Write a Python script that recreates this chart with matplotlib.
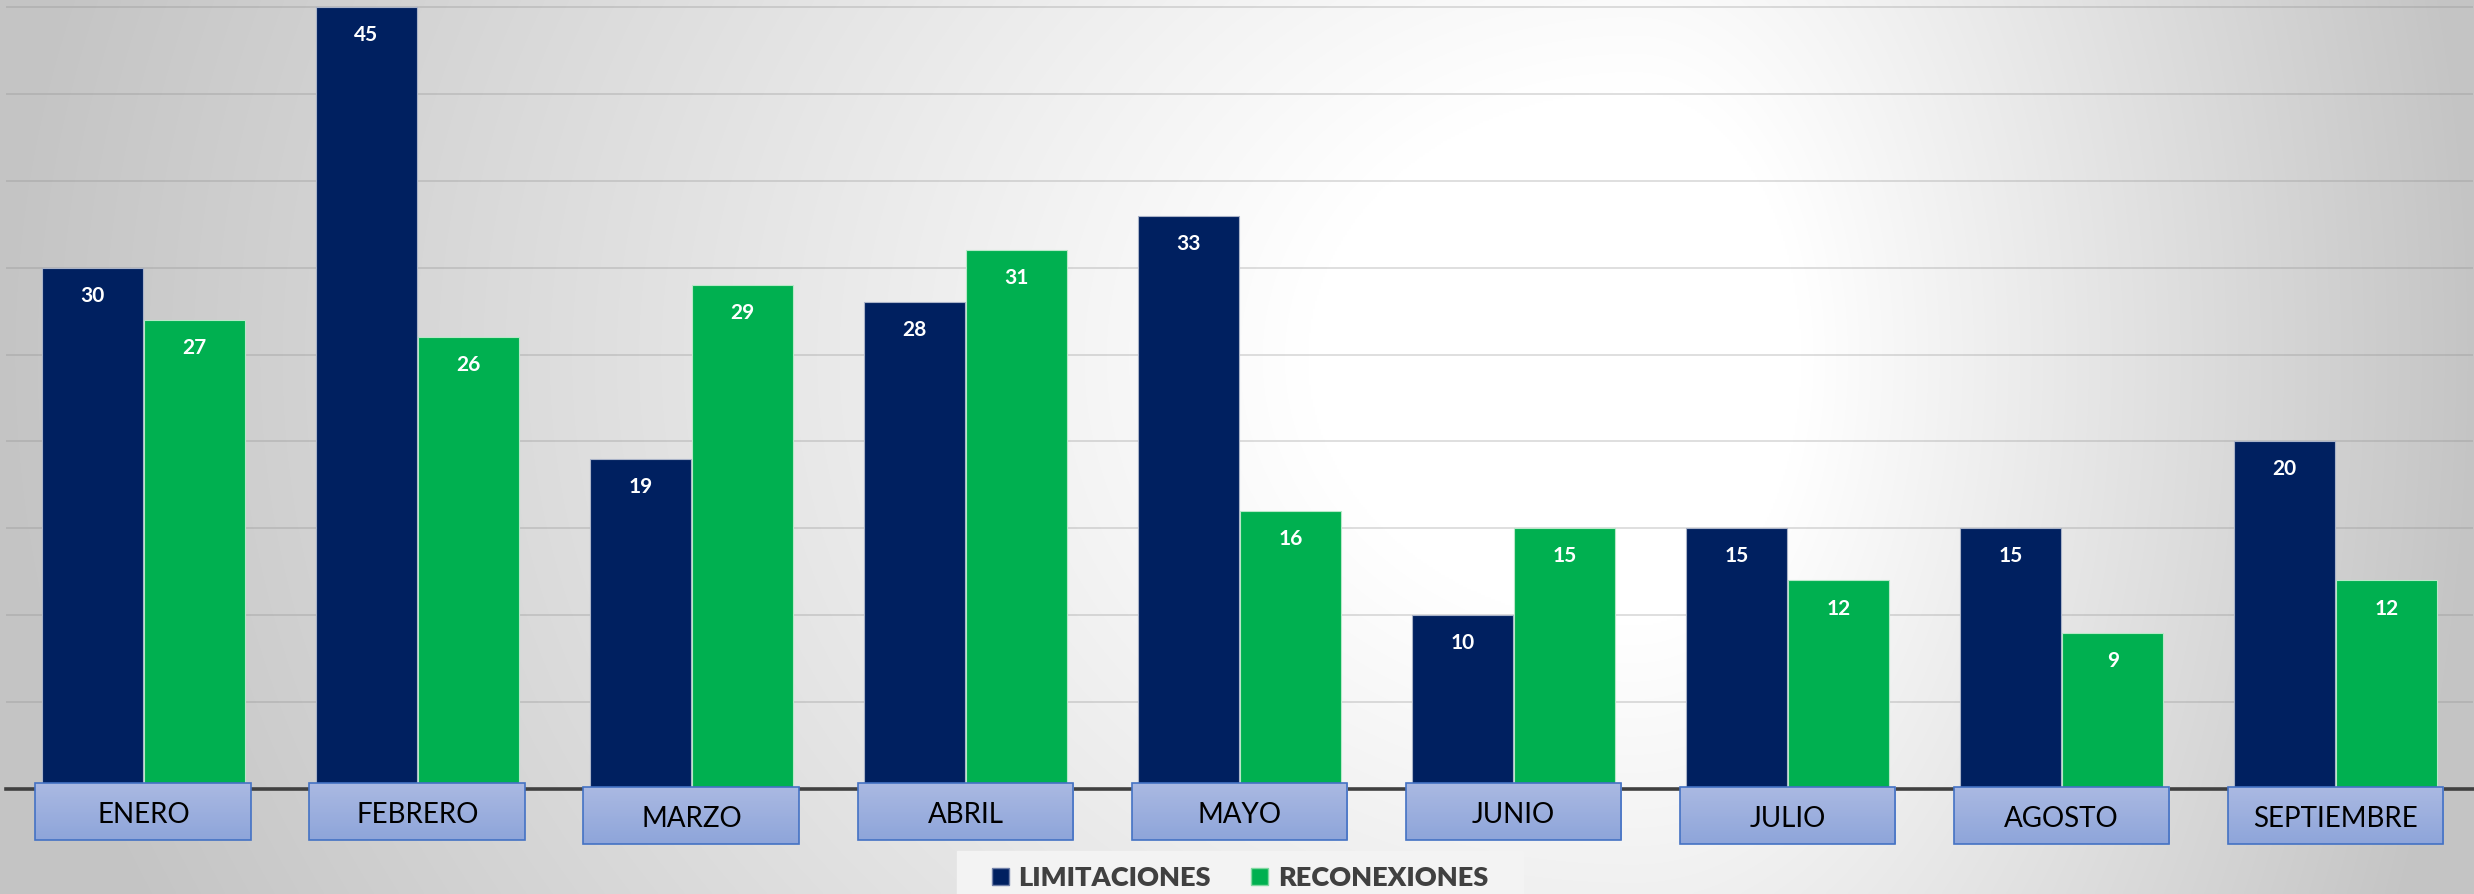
import numpy as np
import matplotlib.pyplot as plt
from matplotlib.patches import Rectangle, Patch
from matplotlib.colors import LinearSegmentedColormap

meses = ["ENERO", "FEBRERO", "MARZO", "ABRIL", "MAYO", "JUNIO", "JULIO", "AGOSTO", "SEPTIEMBRE"]
limitaciones = [30, 45, 19, 28, 33, 10, 15, 15, 20]
reconexiones = [27, 26, 29, 31, 16, 15, 12, 9, 12]

# algunas cajas de etiqueta quedan unos px mas abajo en el original
caida = [0, 0, 1, 0, 0, 0, 1, 1, 1]

azul = "#002060"
verde = "#00B050"

plt.rcParams['font.family'] = ['Lato', 'DejaVu Sans']

fig = plt.figure(figsize=(24.74, 8.94), dpi=100)

# fondo con degradado radial (blanco al centro, gris en los bordes)
bg = fig.add_axes([0, 0, 1, 1], zorder=0)
bg.set_axis_off()
H, W = 447, 1237
yy, xx = np.mgrid[0:H, 0:W]
cx, cy = 0.66 * W, 0.4 * H
sx = np.where(xx < cx, cx, W - cx)
d = np.sqrt(((xx - cx) / sx) ** 2 + ((yy - cy) / (1.5 * H)) ** 2)
g = 1 - 0.23 * np.clip((d - 0.2) / 0.8, 0, 1)
bg.imshow(np.dstack([g, g, g]), extent=[0, 1, 0, 1], aspect='auto', interpolation='bilinear')
bg.set_xlim(0, 1)
bg.set_ylim(0, 1)
bg.add_patch(Rectangle((957 / 2474, 0), 566 / 2474, 43 / 894, color='#f3f3f3', zorder=2))

ax = fig.add_axes([0.0026, 0.1174, 0.9968, 0.8777], zorder=1)
ax.patch.set_alpha(0)

x = np.arange(len(meses))
w = 0.37
b1 = ax.bar(x - 0.187, limitaciones, w, color=azul, edgecolor='#aab3c8', linewidth=0.8, zorder=3)
b2 = ax.bar(x + 0.187, reconexiones, w, color=verde, edgecolor='#b8e8c8', linewidth=0.8, zorder=3)

ax.set_yticks(np.arange(5, 50, 5))
ax.yaxis.grid(True, color='#888888', alpha=0.35, linewidth=1.1)
ax.set_axisbelow(True)
ax.tick_params(left=False, bottom=False, labelleft=False, labelbottom=False)
for s in ax.spines.values():
    s.set_visible(False)
ax.axhline(0, color='#404040', linewidth=2.6, zorder=2, clip_on=False)

for barras in (b1, b2):
    for r in barras:
        ax.annotate(f"{r.get_height():.0f}", (r.get_x() + r.get_width() / 2, r.get_height()),
                    xytext=(0, -24.5), textcoords='offset points', ha='center', va='baseline',
                    color='white', fontsize=15, fontweight='bold', zorder=5)

# cajas de las categorias con degradado azul
px = 1 / 17.4
grad = np.linspace(0, 1, 64).reshape(-1, 1)
cmap = LinearSegmentedColormap.from_list('caja', ['#8EA5DA', '#AAB9E2'])
for i, mes in enumerate(meses):
    top = (6 - 4 * caida[i]) * px
    bot = top - 57 * px
    x0, x1 = i - 0.394, i + 0.394
    ax.imshow(grad, extent=[x0, x1, bot, top], origin='lower', cmap=cmap,
              aspect='auto', clip_on=False, zorder=4)
    ax.add_patch(Rectangle((x0, bot), x1 - x0, top - bot, fill=False, edgecolor='#4472C4',
                           linewidth=1.2, clip_on=False, zorder=4.5))
    ax.text(i, top - 40 * px, mes, ha='center', va='baseline', fontsize=20,
            color='black', zorder=5, clip_on=False)

ax.set_xlim(-0.5, len(meses) - 0.5)
ax.set_ylim(0, 45.15)

handles = [Patch(facecolor=azul, edgecolor='#7080a8', linewidth=1),
           Patch(facecolor=verde, edgecolor='#80d8a0', linewidth=1)]
fig.legend(handles, ["LIMITACIONES", "RECONEXIONES"], loc='center',
           bbox_to_anchor=(1240 / 2474, (894 - 878) / 894), bbox_transform=fig.transFigure,
           ncol=2, frameon=False, prop={'weight': 'heavy', 'size': 19.5},
           labelcolor='#404040', handlelength=0.62, handleheight=0.62,
           handletextpad=0.35, columnspacing=1.5, borderpad=0)

fig.savefig('out.png', dpi=100)
